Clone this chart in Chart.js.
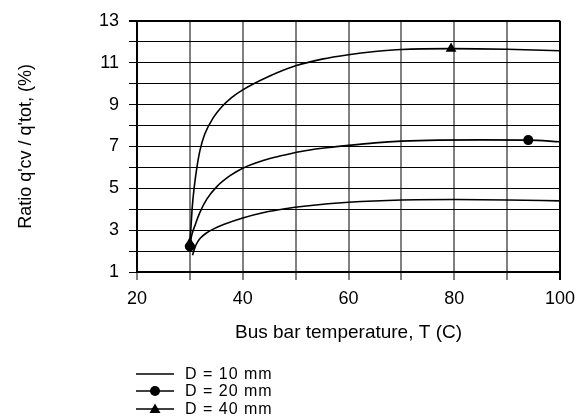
<!DOCTYPE html>
<html>
<head>
<meta charset="utf-8">
<script src="https://cdn.jsdelivr.net/npm/chart.js@4.4.1/dist/chart.umd.min.js"></script>
<style>
html, body { margin: 0; padding: 0; background: #fff; }
#wrap { position: relative; width: 587px; height: 419px; overflow: hidden; }
#c { position: absolute; left: 0; top: 0; }
#legend { position: absolute; left: 136px; top: 365px; font: 16px "Liberation Sans", Arial, sans-serif; color: #000; letter-spacing: 1px; }
.row { display: flex; align-items: center; height: 17.5px; white-space: nowrap; }
.row svg { width: 38px; height: 14px; margin-right: 11px; flex: none; }
</style>
</head>
<body>
<div id="wrap">
  <canvas id="c" width="587" height="419"></canvas>
  <div id="legend"></div>
</div>
<script>
// ---- data ----
const seriesLabels = ['D = 10 mm', 'D = 20 mm', 'D = 40 mm'];

const tempD10  = [30.5, 31, 31.5, 32, 33, 34.5, 36.5, 40, 44, 48, 52, 60, 70, 80, 90, 100];
const ratioD10 = [1.8, 2.2, 2.45, 2.62, 2.84, 3.06, 3.28, 3.58, 3.84, 4.02, 4.15, 4.33, 4.44, 4.46, 4.44, 4.40];

const tempD20  = [30, 30.3, 31, 31.9, 33.2, 35.1, 37.6, 40, 44, 47, 51, 55, 60, 65, 70, 77, 85, 94, 100];
const ratioD20 = [2.22, 2.7, 3.25, 3.85, 4.48, 5.08, 5.6, 5.96, 6.34, 6.54, 6.76, 6.91, 7.05, 7.17, 7.25, 7.3, 7.31, 7.30, 7.22];

const tempD40  = [30, 30.2, 30.45, 30.8, 31.3, 31.9, 32.8, 34.4, 36, 38, 40, 45, 50, 55, 60, 65, 70, 79.4, 90, 100];
const ratioD40 = [2.38, 3.1, 4.1, 5.0, 5.95, 6.8, 7.58, 8.36, 8.88, 9.35, 9.7, 10.35, 10.85, 11.17, 11.38, 11.53, 11.63, 11.67, 11.64, 11.57];

const markerTempD20  = [30, 94];
const markerRatioD20 = [2.22, 7.30];
const markerTempD40  = [30, 79.4];
const markerRatioD40 = [2.38, 11.67];

const xTickLabels = [20, 40, 60, 80, 100];
const yTickLabels = [1, 3, 5, 7, 9, 11, 13];

// ---- build chart ----
const pts = (xs, ys) => xs.map((x, i) => ({ x: x, y: ys[i] }));
const FONT = '"Liberation Sans", Arial, sans-serif';

const lineStyle = {
  borderColor: '#000',
  backgroundColor: '#000',
  borderWidth: 1.6,
  pointRadius: 0,
  pointHoverRadius: 0,
  cubicInterpolationMode: 'monotone',
  fill: false
};

const chart = new Chart(document.getElementById('c'), {
  type: 'line',
  data: {
    datasets: [
      Object.assign({ label: seriesLabels[0], data: pts(tempD10, ratioD10) }, lineStyle),
      Object.assign({ label: seriesLabels[1], data: pts(tempD20, ratioD20) }, lineStyle),
      Object.assign({ label: seriesLabels[2], data: pts(tempD40, ratioD40) }, lineStyle),
      { label: seriesLabels[1] + ' marker', data: pts(markerTempD20, markerRatioD20), showLine: false,
        pointStyle: 'circle', pointRadius: 5, pointBackgroundColor: '#000', pointBorderColor: '#000', pointBorderWidth: 0 },
      { label: seriesLabels[2] + ' marker', data: pts(markerTempD40, markerRatioD40), showLine: false,
        pointStyle: 'triangle', pointRadius: 6.2, pointBackgroundColor: '#000', pointBorderColor: '#000', pointBorderWidth: 0 }
    ]
  },
  options: {
    responsive: false,
    animation: false,
    devicePixelRatio: 1,
    layout: { padding: { left: 0, right: 27, top: 17, bottom: 75 } },
    plugins: { legend: { display: false }, tooltip: { enabled: false } },
    scales: {
      x: {
        type: 'linear',
        min: 20, max: 100,
        afterFit: s => { s.height = 72; },
        ticks: {
          stepSize: 10,
          padding: 8,
          color: '#000',
          font: { family: FONT, size: 18 },
          maxRotation: 0,
          autoSkip: false,
          callback: v => xTickLabels.includes(v) ? String(v) : ''
        },
        grid: {
          color: c => (c.tick && c.tick.value === 100) ? '#000' : '#808080',
          lineWidth: 2,
          tickLength: 8,
          drawTicks: true
        },
        border: { display: true, color: '#000', width: 2 },
        title: {
          display: true,
          text: 'Bus bar temperature, T (C)',
          color: '#000',
          font: { family: FONT, size: 19 },
          padding: { top: 0, bottom: 0 }
        }
      },
      y: {
        type: 'linear',
        min: 1, max: 13,
        afterFit: s => { s.width = 137; },
        ticks: {
          stepSize: 1,
          padding: 10,
          color: '#000',
          font: { family: FONT, size: 18 },
          autoSkip: false,
          callback: v => yTickLabels.includes(v) ? String(v) : ''
        },
        grid: {
          color: '#000',
          lineWidth: c => (c.tick && c.tick.value === 13) ? 2 : 1,
          tickLength: 8,
          drawTicks: true
        },
        border: { display: true, color: '#000', width: 2 },
        title: {
          display: true,
          text: "Ratio q'cv / q'tot, (%)",
          color: '#000',
          font: { family: FONT, size: 18 },
          padding: { top: 15, bottom: 0 }
        }
      }
    }
  }
});

// ---- HTML legend built from series labels ----
const symbols = [
  '<line x1="0" y1="7" x2="38" y2="7" stroke="#000" stroke-width="1.6"/>',
  '<line x1="0" y1="7" x2="38" y2="7" stroke="#000" stroke-width="1.6"/><circle cx="19" cy="7" r="5" fill="#000"/>',
  '<line x1="0" y1="7" x2="38" y2="7" stroke="#000" stroke-width="1.6"/><polygon points="19,1.5 24.5,11 13.5,11" fill="#000"/>'
];
const legendEl = document.getElementById('legend');
seriesLabels.forEach((lab, i) => {
  const row = document.createElement('div');
  row.className = 'row';
  row.innerHTML = '<svg viewBox="0 0 38 14">' + symbols[i] + '</svg>';
  const span = document.createElement('span');
  span.textContent = lab;
  row.appendChild(span);
  legendEl.appendChild(row);
});
</script>
</body>
</html>
